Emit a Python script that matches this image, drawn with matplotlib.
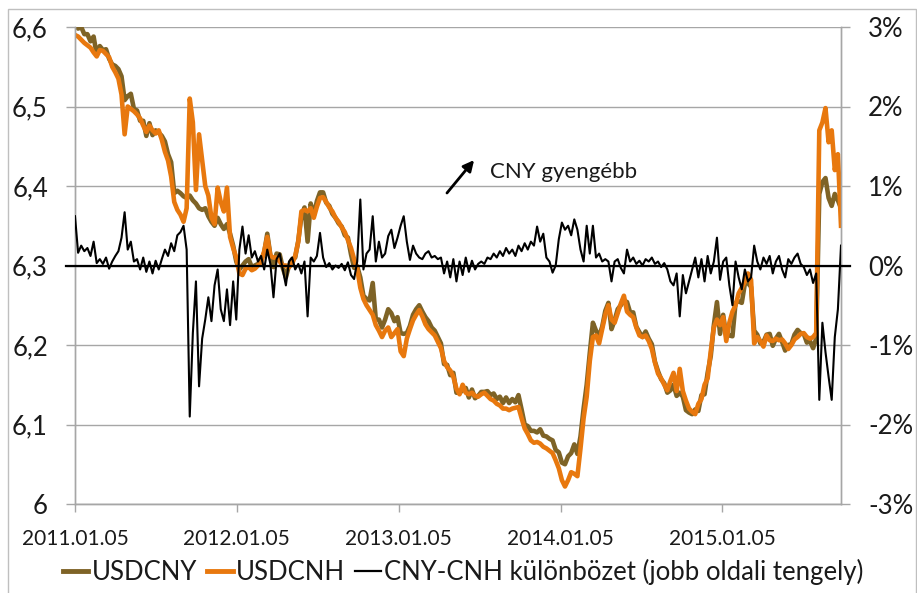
import matplotlib
matplotlib.use("Agg")
import matplotlib.pyplot as plt
from matplotlib.lines import Line2D
from matplotlib.patches import Rectangle
import pandas as pd

plt.rcParams['font.family'] = ['Lato', 'DejaVu Sans']

# ---- data (weekly readings, 2011-01-05 .. 2015-09-30) ----
start_date = "2011-01-05"
n_weeks = 248

usdcnh = [
    6.590, 6.588, 6.584, 6.580, 6.577, 6.574, 6.568, 6.563, 6.571, 6.570,
    6.566, 6.562, 6.550, 6.543, 6.535, 6.515, 6.465, 6.500, 6.497, 6.494,
    6.490, 6.485, 6.476, 6.468, 6.476, 6.470, 6.466, 6.470, 6.458, 6.443,
    6.432, 6.412, 6.380, 6.370, 6.364, 6.355, 6.372, 6.510, 6.480, 6.395,
    6.465, 6.432, 6.400, 6.388, 6.360, 6.352, 6.398, 6.380, 6.368, 6.398,
    6.336, 6.322, 6.310, 6.290, 6.288, 6.296, 6.298, 6.294, 6.296, 6.300,
    6.304, 6.318, 6.336, 6.312, 6.310, 6.310, 6.305, 6.300, 6.300, 6.298,
    6.302, 6.312, 6.330, 6.368, 6.370, 6.368, 6.372, 6.360, 6.374, 6.385,
    6.386, 6.380, 6.373, 6.368, 6.360, 6.355, 6.348, 6.342, 6.332, 6.322,
    6.308, 6.296, 6.272, 6.258, 6.250, 6.244, 6.238, 6.225, 6.218, 6.210,
    6.218, 6.222, 6.210, 6.215, 6.220, 6.192, 6.186, 6.208, 6.220, 6.231,
    6.238, 6.244, 6.236, 6.226, 6.220, 6.216, 6.212, 6.204, 6.196, 6.180,
    6.172, 6.168, 6.160, 6.145, 6.138, 6.150, 6.140, 6.138, 6.140, 6.136,
    6.135, 6.138, 6.140, 6.136, 6.132, 6.130, 6.126, 6.124, 6.120, 6.120,
    6.118, 6.120, 6.121, 6.122, 6.108, 6.095, 6.088, 6.080, 6.077, 6.078,
    6.076, 6.072, 6.070, 6.067, 6.064, 6.055, 6.045, 6.030, 6.022, 6.030,
    6.040, 6.038, 6.035, 6.070, 6.108, 6.135, 6.180, 6.210, 6.212, 6.202,
    6.220, 6.238, 6.250, 6.232, 6.228, 6.240, 6.252, 6.262, 6.242, 6.238,
    6.235, 6.222, 6.212, 6.210, 6.212, 6.205, 6.195, 6.178, 6.164, 6.158,
    6.150, 6.143, 6.155, 6.165, 6.142, 6.170, 6.142, 6.130, 6.120, 6.116,
    6.113, 6.126, 6.132, 6.150, 6.158, 6.192, 6.222, 6.232, 6.225, 6.235,
    6.205, 6.228, 6.242, 6.250, 6.265, 6.272, 6.280, 6.290, 6.282, 6.202,
    6.210, 6.205, 6.198, 6.212, 6.206, 6.205, 6.208, 6.206, 6.207, 6.202,
    6.195, 6.200, 6.207, 6.210, 6.214, 6.215, 6.210, 6.208, 6.210, 6.215,
    6.470, 6.480, 6.498, 6.455, 6.470, 6.420, 6.440, 6.350,
]

usdcny = [
    6.629, 6.598, 6.600, 6.591, 6.591, 6.582, 6.588, 6.565, 6.576, 6.571,
    6.572, 6.560, 6.553, 6.551, 6.547, 6.538, 6.508, 6.513, 6.516, 6.497,
    6.495, 6.482, 6.482, 6.463, 6.479, 6.464, 6.470, 6.467, 6.463, 6.456,
    6.440, 6.430, 6.391, 6.394, 6.391, 6.387, 6.385, 6.388, 6.382, 6.378,
    6.372, 6.370, 6.372, 6.362, 6.355, 6.350, 6.360, 6.352, 6.346, 6.352,
    6.340, 6.325, 6.305, 6.295, 6.300, 6.305, 6.308, 6.298, 6.300, 6.302,
    6.308, 6.316, 6.340, 6.313, 6.298, 6.315, 6.314, 6.297, 6.285, 6.300,
    6.308, 6.310, 6.331, 6.362, 6.373, 6.330, 6.378, 6.363, 6.381, 6.392,
    6.392, 6.379, 6.375, 6.365, 6.360, 6.353, 6.349, 6.338, 6.335, 6.314,
    6.297, 6.299, 6.285, 6.262, 6.258, 6.256, 6.278, 6.232, 6.232, 6.222,
    6.232, 6.245, 6.240, 6.230, 6.235, 6.215, 6.214, 6.215, 6.224, 6.238,
    6.245, 6.250, 6.242, 6.235, 6.230, 6.222, 6.218, 6.210, 6.202, 6.176,
    6.175, 6.162, 6.165, 6.140, 6.140, 6.143, 6.146, 6.134, 6.144, 6.133,
    6.136, 6.141, 6.141, 6.142, 6.137, 6.139, 6.132, 6.135, 6.127, 6.134,
    6.127, 6.132, 6.128, 6.137, 6.119, 6.100, 6.098, 6.092, 6.092, 6.090,
    6.094, 6.086, 6.085, 6.082, 6.080, 6.068, 6.065, 6.052, 6.050, 6.060,
    6.064, 6.075, 6.063, 6.085, 6.120, 6.150, 6.190, 6.228, 6.218, 6.211,
    6.223, 6.243, 6.253, 6.220, 6.231, 6.245, 6.250, 6.256, 6.254, 6.241,
    6.241, 6.223, 6.216, 6.210, 6.217, 6.208, 6.201, 6.179, 6.167, 6.157,
    6.152, 6.140, 6.143, 6.150, 6.136, 6.140, 6.135, 6.118, 6.115, 6.113,
    6.119, 6.117, 6.137, 6.138, 6.165, 6.186, 6.225, 6.254, 6.214, 6.238,
    6.211, 6.212, 6.211, 6.253, 6.255, 6.253, 6.277, 6.278, 6.273, 6.218,
    6.213, 6.202, 6.204, 6.213, 6.214, 6.199, 6.208, 6.214, 6.204, 6.193,
    6.200, 6.201, 6.213, 6.219, 6.215, 6.214, 6.203, 6.205, 6.196, 6.208,
    6.390, 6.405, 6.410, 6.385, 6.375, 6.390, 6.382, 6.372,
]

spread_pct = [
    0.62, 0.16, 0.25, 0.18, 0.22, 0.12, 0.30, 0.03, 0.08, 0.02,
    0.10, -0.04, 0.05, 0.12, 0.18, 0.35, 0.67, 0.20, 0.30, 0.05,
    0.08, -0.05, 0.10, -0.08, 0.05, -0.10, 0.06, -0.05, 0.08, 0.20,
    0.12, 0.28, 0.18, 0.38, 0.42, 0.50, 0.20, -1.90, -0.85, -0.20,
    -1.52, -0.92, -0.68, -0.40, -0.70, -0.25, -0.05, -0.55, -0.70, -0.30,
    -0.75, -0.20, -0.68, 0.20, 0.49, 0.15, 0.38, 0.10, 0.18, 0.05,
    0.12, -0.05, 0.20, 0.02, -0.40, 0.08, 0.15, -0.05, -0.25, 0.05,
    0.10, -0.05, 0.02, -0.10, 0.05, -0.64, 0.10, 0.05, 0.12, 0.41,
    0.10, -0.02, 0.03, -0.05, 0.00, -0.03, 0.02, -0.06, 0.04, -0.12,
    -0.17, 0.05, 0.83, -0.05, 0.15, 0.20, 0.62, 0.05, 0.30, 0.10,
    0.15, 0.37, 0.45, 0.22, 0.35, 0.50, 0.62, 0.30, 0.07, 0.25,
    0.15, 0.10, 0.08, 0.15, 0.18, 0.10, 0.12, 0.08, 0.10, -0.10,
    0.05, -0.15, 0.08, -0.20, 0.05, -0.12, 0.10, -0.08, 0.06, -0.05,
    0.02, 0.05, 0.02, 0.10, 0.08, 0.15, 0.10, 0.18, 0.12, 0.22,
    0.15, 0.20, 0.12, 0.25, 0.18, 0.28, 0.20, 0.30, 0.25, 0.49,
    0.30, 0.40, 0.10, 0.05, -0.09, 0.00, 0.33, 0.54, 0.45, 0.50,
    0.38, 0.58, 0.45, 0.20, 0.05, 0.50, 0.15, 0.50, 0.10, 0.15,
    0.05, 0.08, 0.05, -0.20, 0.05, 0.08, -0.03, -0.10, 0.20, 0.05,
    0.10, 0.02, 0.06, 0.00, 0.08, 0.05, 0.10, 0.02, 0.05, -0.02,
    0.03, -0.05, -0.20, -0.25, -0.10, -0.64, -0.12, -0.35, -0.20, -0.05,
    0.10, -0.15, 0.08, -0.20, 0.12, -0.10, 0.05, 0.35, -0.18, 0.05,
    0.10, -0.25, -0.50, 0.05, -0.15, -0.30, -0.05, -0.20, -0.15, 0.25,
    0.05, -0.05, 0.10, 0.02, 0.12, -0.10, 0.05, 0.12, -0.05, -0.15,
    0.08, 0.02, 0.10, 0.15, 0.02, -0.02, -0.12, -0.05, -0.22, -0.10,
    -1.69, -0.72, -1.09, -1.40, -1.69, -0.90, -0.55, 0.25,
]

left_ticks = [6.0, 6.1, 6.2, 6.3, 6.4, 6.5, 6.6]
left_labels = ["6", "6,1", "6,2", "6,3", "6,4", "6,5", "6,6"]
right_ticks = [-3, -2, -1, 0, 1, 2, 3]
right_labels = ["-3%", "-2%", "-1%", "0%", "1%", "2%", "3%"]
x_tick_dates = ["2011-01-05", "2012-01-05", "2013-01-05", "2014-01-05", "2015-01-05"]
x_tick_labels = ["2011.01.05", "2012.01.05", "2013.01.05", "2014.01.05", "2015.01.05"]
series_names = ["USDCNY", "USDCNH", "CNY-CNH különbözet (jobb oldali tengely)"]
annotation_text = "CNY gyengébb"

dates = pd.date_range(start_date, periods=n_weeks, freq="7D")

# ---- style ----
C_CNY = "#7E6326"
C_CNH = "#E8780E"
C_GRID = "#A6A6A6"
C_TEXT = "#1A1A1A"

fig = plt.figure(figsize=(9.17, 5.93), dpi=100)
fig.patch.set_facecolor("white")
fig.patches.append(Rectangle((8 / 917, -0.05), (916 - 8) / 917, 1 - 9 / 593 + 0.05,
                             transform=fig.transFigure, fill=False,
                             edgecolor="#BFBFBF", lw=1.0))

ax = fig.add_axes([75 / 917, 1 - 504 / 593, (841 - 75) / 917, (504 - 27) / 593])
ax2 = ax.twinx()

ax.plot(dates, usdcny, color=C_CNY, lw=3.3, solid_joinstyle="round", zorder=2)
ax.plot(dates, usdcnh, color=C_CNH, lw=3.3, solid_joinstyle="round", zorder=3)
ax2.plot(dates, spread_pct, color="black", lw=1.5, zorder=4)

ax.set_xlim(dates[0], dates[-1])
ax.set_ylim(6.0, 6.6)
ax2.set_ylim(-3, 3)

ax.set_yticks(left_ticks)
ax.set_yticklabels(left_labels)
ax2.set_yticks(right_ticks)
ax2.set_yticklabels(right_labels)
ax.set_xticks(pd.to_datetime(x_tick_dates))
ax.set_xticklabels(x_tick_labels)

ax.yaxis.grid(True, color=C_GRID, lw=1.0)
ax.set_axisbelow(True)

for a in (ax, ax2):
    for s in a.spines.values():
        s.set_color(C_GRID)
        s.set_linewidth(1.0)
ax.spines["top"].set_visible(False)
ax2.spines["top"].set_visible(False)

ax.tick_params(axis="y", length=6.5, width=1.0, color=C_GRID, pad=13,
               labelsize=18.5, labelcolor=C_TEXT)
ax2.tick_params(axis="y", length=6.5, width=1.0, color=C_GRID, pad=13,
                labelsize=18.5, labelcolor=C_TEXT)
ax.tick_params(axis="x", length=6, width=1.0, color=C_GRID, pad=12,
               labelsize=15, labelcolor=C_TEXT)

# zero line of the right axis (black, extends over tick marks)
ax2.add_line(Line2D([-0.012, 1.012], [0, 0], transform=ax2.get_yaxis_transform(),
                    color="black", lw=1.6, clip_on=False, zorder=5))

# annotation arrow + text
ax.annotate("", xy=(0.521, 0.721), xytext=(0.4856, 0.652), xycoords="axes fraction",
            textcoords="axes fraction",
            arrowprops=dict(arrowstyle="-|>", color="black", lw=2.0,
                            mutation_scale=16, shrinkA=0, shrinkB=0))
ax.text(0.542, 0.695, annotation_text, transform=ax.transAxes, fontsize=16,
        color=C_TEXT, va="center", ha="left")

handles = [Line2D([], [], color=C_CNY, lw=3.5),
           Line2D([], [], color=C_CNH, lw=3.5),
           Line2D([], [], color="black", lw=1.6)]
fig.legend(handles, series_names, loc="center", bbox_to_anchor=(0.505, 0.035),
           ncol=3, frameon=False, fontsize=18.5, handlelength=1.0,
           handletextpad=0.12, columnspacing=0.4, labelcolor=C_TEXT,
           borderaxespad=0, borderpad=0)

fig.savefig("out.png", dpi=100, facecolor="white")
